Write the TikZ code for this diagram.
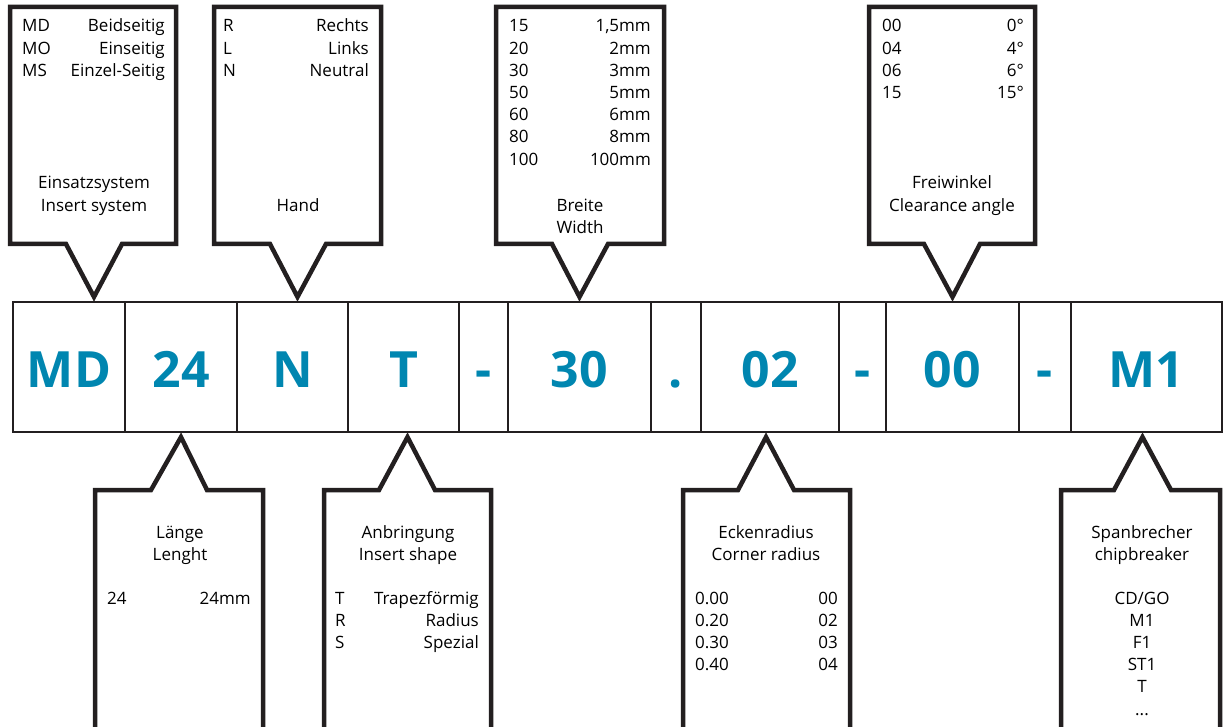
\documentclass[tikz,border=0pt]{standalone}
\usepackage{fontspec}
\setmainfont{Open Sans}
\definecolor{codeblue}{RGB}{0,134,176}
\definecolor{inkline}{RGB}{35,31,32}
\tikzset{
  cell/.style={draw=inkline, line width=2.2pt, minimum height=130pt, inner sep=0pt,
    text height=42pt, text depth=0pt, text=codeblue, font=\fontsize{50}{50}\selectfont\bfseries},
  callout/.style={draw=inkline, line width=4.5pt, line join=miter},
  txt/.style={inner sep=0pt, font=\fontsize{17}{22.2}\selectfont}
}
\begin{document}
\begin{tikzpicture}[x=1pt,y=-1pt]
\clip (0,0) rectangle (1224,727);
% Code row
\node[cell, minimum width=112pt] (md) at (69,367) {MD};
\node[cell, minimum width=112pt] (len) at (181,367) {24};
\node[cell, minimum width=111pt] (hand) at (292.5,367) {N};
\node[cell, minimum width=111pt] (shape) at (403.5,367) {T};
\node[cell, minimum width=49pt] (dasha) at (483.5,367) {-};
\node[cell, minimum width=143pt] (width) at (579.5,367) {30};
\node[cell, minimum width=50pt] (dot) at (676,367) {.};
\node[cell, minimum width=138pt] (radius) at (770,367) {02};
\node[cell, minimum width=47pt] (dashb) at (862.5,367) {-};
\node[cell, minimum width=133pt] (angle) at (952.5,367) {00};
\node[cell, minimum width=52pt] (dashc) at (1045,367) {-};
\node[cell, minimum width=151pt] (breaker) at (1146.5,367) {M1};
% Top callouts (base = last line)
\draw[callout] (10,7) -- (176,7) -- (176,244) -- (122,244) -- ([xshift=25pt,yshift=4pt]md.north) -- (66,244) -- (10,244) -- cycle;
\node[txt, align=left, anchor=base west] (syskey) at (22,76.4) {MD\\MO\\MS};
\node[txt, align=right, anchor=base east] (sysval) at (165,76.4) {Beidseitig\\Einseitig\\Einzel-Seitig};
\node[txt, align=center, anchor=base] (systitle) at (94,211.2) {Einsatzsystem\\Insert system};
\draw[callout] (214,7) -- (381,7) -- (381,244) -- (326,244) -- ([xshift=5pt,yshift=4pt]hand.north) -- (270,244) -- (214,244) -- cycle;
\node[txt, align=left, anchor=base west] (handkey) at (223,76.4) {R\\L\\N};
\node[txt, align=right, anchor=base east] (handval) at (369,76.4) {Rechts\\Links\\Neutral};
\node[txt, anchor=base] (handtitle) at (298,211.2) {Hand};
\draw[callout] (496,7) -- (664,7) -- (664,244) -- (608,244) -- ([yshift=4pt]width.north) -- (552,244) -- (496,244) -- cycle;
\node[txt, align=left, anchor=base west] (widthkey) at (509,165.2) {15\\20\\30\\50\\60\\80\\100};
\node[txt, align=right, anchor=base east] (widthval) at (651,165.2) {1,5mm\\2mm\\3mm\\5mm\\6mm\\8mm\\100mm};
\node[txt, align=center, anchor=base] (widthtitle) at (580,233.4) {Breite\\Width};
\draw[callout] (869,7) -- (1035,7) -- (1035,244) -- (980,244) -- ([yshift=4pt]angle.north) -- (924,244) -- (869,244) -- cycle;
\node[txt, align=left, anchor=base west] (anglekey) at (882,98.6) {00\\04\\06\\15};
\node[txt, align=right, anchor=base east] (angleval) at (1024,98.6) {0°\\4°\\6°\\15°};
\node[txt, align=center, anchor=base] (angletitle) at (952,211.2) {Freiwinkel\\Clearance angle};
% Bottom callouts
\draw[callout] (95,730) -- (95,490) -- (151,490) -- ([yshift=-4pt]len.south) -- (207,490) -- (263,490) -- (263,730);
\node[txt, align=center, anchor=base] (lentitle) at (180,560.2) {Länge\\Lenght};
\node[txt, anchor=base west] (lenkey) at (107,604) {24};
\node[txt, anchor=base east] (lenval) at (251,604) {24mm};
\draw[callout] (324,730) -- (324,490) -- (379,490) -- ([xshift=4pt,yshift=-4pt]shape.south) -- (435,490) -- (491,490) -- (491,730);
\node[txt, align=center, anchor=base] (shapetitle) at (408,560.2) {Anbringung\\Insert shape};
\node[txt, align=left, anchor=base west] (shapekey) at (335,648.4) {T\\R\\S};
\node[txt, align=right, anchor=base east] (shapeval) at (479,648.4) {Trapezförmig\\Radius\\Spezial};
\draw[callout] (683,730) -- (683,490) -- (738,490) -- ([xshift=-4pt,yshift=-4pt]radius.south) -- (794,490) -- (850,490) -- (850,730);
\node[txt, align=center, anchor=base] (radiustitle) at (766,560.2) {Eckenradius\\Corner radius};
\node[txt, align=left, anchor=base west] (radiuskey) at (695,670.6) {0.00\\0.20\\0.30\\0.40};
\node[txt, align=right, anchor=base east] (radiusval) at (838,670.6) {00\\02\\03\\04};
\draw[callout] (1061,730) -- (1061,490) -- (1114,490) -- ([xshift=-4pt,yshift=-4pt]breaker.south) -- (1171,490) -- (1220,490) -- (1220,730);
\node[txt, align=center, anchor=base] (breakertitle) at (1142,560.2) {Spanbrecher\\chipbreaker};
\node[txt, align=center, anchor=base] (breakerlist) at (1142,715) {CD/GO\\M1\\F1\\ST1\\T\\...};
\end{tikzpicture}
\end{document}
